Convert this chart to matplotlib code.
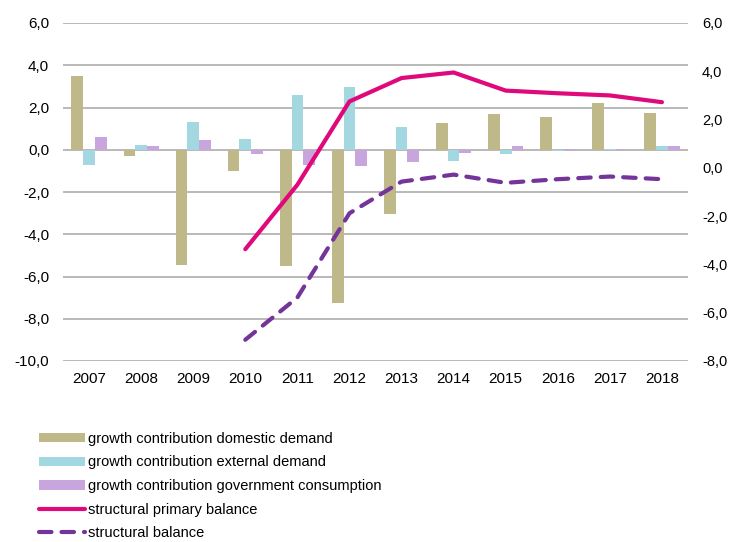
import matplotlib
matplotlib.use('Agg')
import matplotlib.pyplot as plt
import numpy as np

plt.rcParams['font.family'] = ['Liberation Sans', 'DejaVu Sans']

years = ['2007', '2008', '2009', '2010', '2011', '2012', '2013', '2014', '2015', '2016', '2017', '2018']
domestic = [3.5, -0.28, -5.45, -1.0, -5.48, -7.27, -3.05, 1.28, 1.7, 1.56, 2.19, 1.75]
external = [-0.74, 0.24, 1.33, 0.52, 2.6, 2.98, 1.09, -0.52, -0.22, -0.08, 0.02, 0.19]
government = [0.6, 0.2, 0.44, -0.2, -0.7, -0.79, -0.57, -0.14, 0.2, 0.03, 0.05, 0.19]
# lines start in 2010
line_years = years[3:]
primary_balance = [-3.37, -0.70, 2.75, 3.72, 3.95, 3.2, 3.09, 3.0, 2.72]
struct_balance = [-7.12, -5.37, -1.88, -0.57, -0.28, -0.62, -0.47, -0.36, -0.47]

c_dom = '#BFB98A'
c_ext = '#A3D8E0'
c_gov = '#C9A5DD'
c_prim = '#E0097C'
c_bal = '#74349A'

fig = plt.figure(figsize=(7.31, 5.42), dpi=100)
ax = fig.add_axes([63/731, 1-361/542, 625/731, 338/542])

x = np.arange(len(years))
w = 0.225
b1 = ax.bar(x - w, domestic, w, color=c_dom, label='growth contribution domestic demand', zorder=2)
b2 = ax.bar(x, external, w, color=c_ext, label='growth contribution external demand', zorder=2)
b3 = ax.bar(x + w, government, w, color=c_gov, label='growth contribution government consumption', zorder=2)

ax.set_ylim(-10, 6)
ax.set_yticks(np.arange(-10, 7, 2))
ax.set_yticklabels([('%.1f' % v).replace('.', ',') for v in np.arange(-10, 7, 2)])
ax.set_xlim(-0.5, len(years) - 0.5)
ax.set_xticks(x)
ax.set_xticklabels(years)
ax.yaxis.grid(True, color='#A6A6A6', linewidth=1.1, zorder=0)
ax.set_axisbelow(True)
for s in ax.spines.values():
  s.set_visible(False)
ax.tick_params(length=0, labelsize=11, pad=8)
ax.tick_params(axis='y', pad=10)

ax2 = ax.twinx()
lx = np.arange(3, len(years))
l1, = ax2.plot(lx, primary_balance, color=c_prim, linewidth=3, solid_capstyle='round',
               label='structural primary balance', zorder=3)
l2, = ax2.plot(lx, struct_balance, color=c_bal, linewidth=3, dashes=(3, 2.4),
               dash_capstyle='round', label='structural balance', zorder=3)
ax2.set_ylim(-8, 6)
ax2.set_yticks(np.arange(-8, 7, 2))
ax2.set_yticklabels([('%.1f' % v).replace('.', ',') for v in np.arange(-8, 7, 2)])
for s in ax2.spines.values():
  s.set_visible(False)
ax2.tick_params(length=0, labelsize=10.5, pad=10)

fig.legend([b1, b2, b3, l1, l2],
           [b1.get_label(), b2.get_label(), b3.get_label(), l1.get_label(), l2.get_label()],
           loc='upper left', bbox_to_anchor=(33/731, 1-426/542), frameon=False,
           fontsize=10.5, handlelength=3.15, handleheight=0.6, labelspacing=0.66,
           handletextpad=0.25, borderaxespad=0)

fig.savefig('out.png', dpi=100)
